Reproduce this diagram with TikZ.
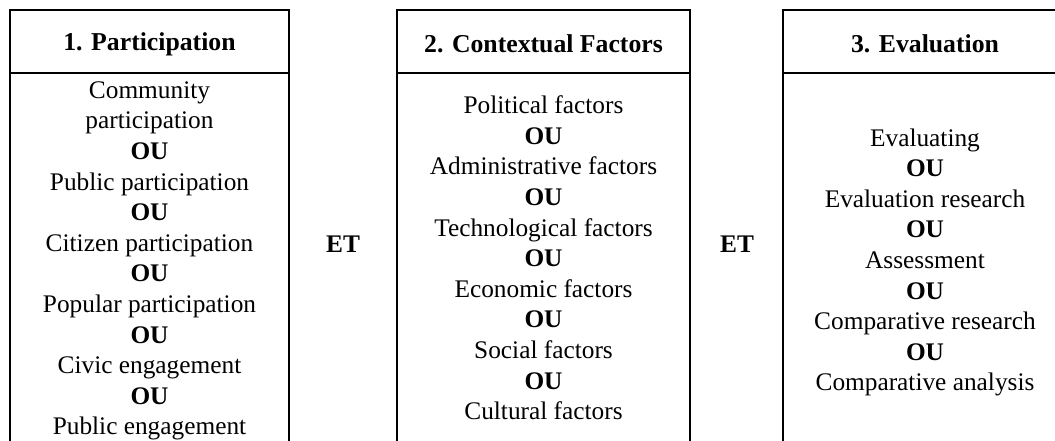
\documentclass[tikz,border=0pt]{standalone}
\usepackage{fontspec}
\setmainfont{Liberation Serif}
\begin{document}
\begin{tikzpicture}[x=0.75pt,y=-0.75pt,
  frame/.style={draw,line width=1.5pt},
  txt/.style={font=\fontsize{19}{22.95}\selectfont, align=center, inner sep=0pt},
  head/.style={font=\fontsize{19.3}{23}\selectfont\bfseries, inner sep=0pt},
  joiner/.style={font=\fontsize{19}{22.9}\selectfont\bfseries, inner sep=0pt}]
\useasboundingbox (0,0) rectangle (1055,441);
\clip (0,0) rectangle (1055,441);

% column frames: header strip on top, body running past the lower edge
\draw[frame] (10,10) rectangle (289,470);
\draw[frame] (10,73) -- (289,73);
\draw[frame] (397,10) rectangle (690,470);
\draw[frame] (397,73) -- (690,73);
\draw[frame] (783,10) rectangle (1067,470);
\draw[frame] (783,73) -- (1067,73);

% headers
\node[head] (h1) at (149.5,44) {1. Participation};
\node[head] (h2) at (543.5,44) {2. Contextual Factors};
\node[head] (h3) at (925,44) {3. Evaluation};

% column contents
\node[txt] (c1) at (149.5,261) {Community\\participation\\\textbf{OU}\\Public participation\\\textbf{OU}\\Citizen participation\\\textbf{OU}\\Popular participation\\\textbf{OU}\\Civic engagement\\\textbf{OU}\\Public engagement};
\node[txt] (c2) at (543.5,258) {Political factors\\\textbf{OU}\\Administrative factors\\\textbf{OU}\\Technological factors\\\textbf{OU}\\Economic factors\\\textbf{OU}\\Social factors\\\textbf{OU}\\Cultural factors};
\node[txt] (c3) at (925,262.5) {Evaluating\\\textbf{OU}\\Evaluation research\\\textbf{OU}\\Assessment\\\textbf{OU}\\Comparative research\\\textbf{OU}\\Comparative analysis};

% logical connectives between the columns
\node[joiner] (et1) at (343,244) {ET};
\node[joiner] (et2) at (737,244) {ET};
\end{tikzpicture}
\end{document}
